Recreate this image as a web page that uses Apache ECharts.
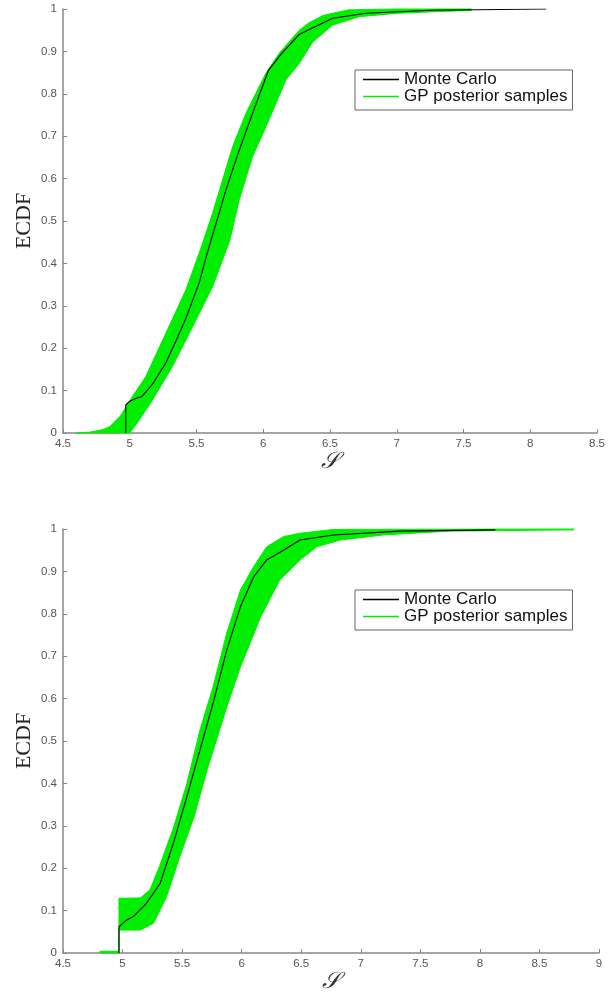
<!DOCTYPE html>
<html>
<head>
<meta charset="utf-8">
<script src="https://cdn.jsdelivr.net/npm/echarts@6/dist/echarts.min.js"></script>
<style>
html,body{margin:0;padding:0;background:#fff;}
#chart{width:608px;height:996px;}
</style>
</head>
<body>
<div id="chart"></div>
<script>
// ---------- Data ----------
const xTicksTop = ['4.5','5','5.5','6','6.5','7','7.5','8','8.5'];
const xTicksBottom = ['4.5','5','5.5','6','6.5','7','7.5','8','8.5','9'];
const yTicks = ['0','0.1','0.2','0.3','0.4','0.5','0.6','0.7','0.8','0.9','1'];
const yTitle = 'ECDF';
const xTitle = '\u{1D4AE}';

// Top panel: Monte Carlo ECDF
const mcTopX = [4.97, 4.97, 5.0, 5.05, 5.09, 5.17, 5.27, 5.35, 5.42, 5.52, 5.58, 5.65, 5.72, 5.82, 5.92, 6.04, 6.14, 6.27, 6.34, 6.52, 6.77, 7.26, 8.12];
const mcTopY = [0, 0.066, 0.075, 0.082, 0.086, 0.115, 0.165, 0.22, 0.27, 0.354, 0.424, 0.498, 0.573, 0.667, 0.754, 0.856, 0.896, 0.94, 0.951, 0.978, 0.99, 0.997, 1.0];
// Top panel: GP posterior samples envelope (upper/left and lower/right)
const gpTopUpperX = [4.6, 4.7, 4.8, 4.85, 4.93, 5.02, 5.12, 5.27, 5.42, 5.52, 5.62, 5.77, 5.87, 6.02, 6.12, 6.27, 6.34, 6.45, 6.64, 7.0, 7.56];
const gpTopUpperY = [0, 0.002, 0.008, 0.015, 0.04, 0.086, 0.133, 0.235, 0.337, 0.424, 0.518, 0.675, 0.754, 0.849, 0.896, 0.95, 0.967, 0.985, 0.998, 1.0, 1.0];
const gpTopLowerX = [4.6, 5.0, 5.07, 5.17, 5.32, 5.47, 5.62, 5.75, 5.82, 5.92, 6.02, 6.17, 6.27, 6.37, 6.52, 6.72, 7.01, 7.56];
const gpTopLowerY = [0, 0, 0.03, 0.078, 0.157, 0.25, 0.345, 0.455, 0.55, 0.652, 0.722, 0.833, 0.872, 0.922, 0.962, 0.982, 0.99, 0.997];

// Bottom panel: Monte Carlo ECDF
const mcBotX = [4.97, 4.97, 5.035, 5.09, 5.2, 5.315, 5.427, 5.54, 5.65, 5.76, 5.875, 5.99, 6.1, 6.21, 6.35, 6.49, 6.77, 7.33, 8.13];
const mcBotY = [0, 0.062, 0.078, 0.086, 0.117, 0.164, 0.259, 0.369, 0.479, 0.589, 0.715, 0.817, 0.887, 0.927, 0.95, 0.974, 0.986, 0.995, 0.998];
// Bottom panel: GP posterior samples envelope
const gpBotUpperX = [4.81, 4.97, 4.97, 5.15, 5.23, 5.31, 5.43, 5.54, 5.65, 5.76, 5.875, 5.99, 6.1, 6.21, 6.35, 6.49, 6.77, 8.79];
const gpBotUpperY = [0.004, 0.004, 0.129, 0.13, 0.149, 0.204, 0.298, 0.4, 0.526, 0.628, 0.755, 0.856, 0.911, 0.958, 0.982, 0.99, 0.999, 1.0];
const gpBotLowerX = [4.81, 4.97, 4.97, 5.15, 5.26, 5.37, 5.48, 5.6, 5.71, 5.875, 5.99, 6.16, 6.32, 6.49, 6.63, 6.83, 7.19, 7.75, 8.79];
const gpBotLowerY = [0, 0, 0.054, 0.054, 0.07, 0.133, 0.227, 0.321, 0.432, 0.58, 0.675, 0.793, 0.88, 0.927, 0.958, 0.974, 0.986, 0.995, 0.998];

// ---------- Styles ----------
const GREEN = '#00ee00';
const AXIS_GRAY = '#888888';
const LABEL_COLOR = '#555555';

function zip(xs, ys) { return xs.map((x, i) => [x, ys[i]]); }
function bandPoints(ux, uy, lx, ly) {
  return zip(ux, uy).concat(zip(lx, ly).reverse());
}

function bandSeries(idx, pts) {
  return {
    type: 'custom',
    name: 'GP posterior samples',
    xAxisIndex: idx, yAxisIndex: idx,
    itemStyle: { color: GREEN },
    silent: true,
    z: 1,
    data: pts,
    encode: { x: 0, y: 1 },
    renderItem: function (params, api) {
      if (params.dataIndex !== 0) return null;
      const poly = pts.map(p => api.coord(p));
      return {
        type: 'polygon',
        shape: { points: poly },
        style: { fill: GREEN, stroke: GREEN, lineWidth: 1 }
      };
    }
  };
}

function mcSeries(idx, xs, ys) {
  return {
    type: 'line',
    name: 'Monte Carlo',
    xAxisIndex: idx, yAxisIndex: idx,
    data: zip(xs, ys),
    showSymbol: false,
    symbol: 'none',
    lineStyle: { color: '#000', width: 1.1 },
    itemStyle: { color: '#000' },
    z: 3,
    silent: true
  };
}

function xAxis(idx, max, ticks) {
  return {
    type: 'value', gridIndex: idx, min: 4.5, max: max, interval: 0.5,
    name: xTitle, nameLocation: 'middle', nameGap: 18,
    nameTextStyle: { fontFamily: 'DejaVu Serif, Liberation Serif, serif', fontStyle: 'italic', fontSize: 23, color: '#333' },
    axisLine: { show: true, lineStyle: { color: AXIS_GRAY, width: 1.5 } },
    axisTick: { show: true, inside: true, length: 4, lineStyle: { color: AXIS_GRAY } },
    axisLabel: {
      margin: 5, color: LABEL_COLOR, fontFamily: 'Liberation Sans, Arial, sans-serif', fontSize: 11.5,
      formatter: function (v) { const i = Math.round((v - 4.5) / 0.5); return ticks[i] !== undefined ? ticks[i] : ''; }
    },
    splitLine: { show: false }
  };
}

function yAxis(idx) {
  return {
    type: 'value', gridIndex: idx, min: 0, max: 1, interval: 0.1,
    axisLine: { show: true, lineStyle: { color: AXIS_GRAY, width: 1.5 } },
    axisTick: { show: true, inside: true, length: 4, lineStyle: { color: AXIS_GRAY } },
    axisLabel: {
      margin: 6, color: LABEL_COLOR, fontFamily: 'Liberation Sans, Arial, sans-serif', fontSize: 11.5,
      formatter: function (v) { const i = Math.round(v * 10); return yTicks[i] !== undefined ? yTicks[i] : ''; }
    },
    splitLine: { show: false }
  };
}

function yTitleText(cy) {
  return {
    type: 'text', x: 24, y: cy, rotation: Math.PI / 2, silent: true,
    style: {
      text: yTitle, fontFamily: 'Liberation Serif, Times New Roman, serif', fontSize: 22,
      fill: '#222', align: 'center', verticalAlign: 'middle'
    }
  };
}

function legend(top) {
  return {
    orient: 'vertical', left: 355, top: top,
    padding: [1, 5, 5, 8],
    itemGap: 0,
    itemWidth: 36, itemHeight: 1.5,
    icon: 'rect',
    borderColor: '#666', borderWidth: 1, backgroundColor: '#fff',
    textStyle: { fontFamily: 'Liberation Sans, Arial, sans-serif', fontSize: 17, color: '#111', lineHeight: 16 },
    selectedMode: false,
    data: [
      { name: 'Monte Carlo', itemStyle: { color: '#000' } },
      { name: 'GP posterior samples', itemStyle: { color: GREEN } }
    ]
  };
}

const chart = echarts.init(document.getElementById('chart'), null, { renderer: 'canvas' });
chart.setOption({
  backgroundColor: '#fff',
  animation: false,
  grid: [
    { left: 63, top: 9, width: 536, height: 424 },
    { left: 63, top: 529, width: 536, height: 424 }
  ],
  xAxis: [xAxis(0, 8.5, xTicksTop), xAxis(1, 9, xTicksBottom)],
  yAxis: [yAxis(0), yAxis(1)],
  legend: [legend(70), legend(590)],
  graphic: [yTitleText(221), yTitleText(741)],
  series: [
    bandSeries(0, bandPoints(gpTopUpperX, gpTopUpperY, gpTopLowerX, gpTopLowerY)),
    mcSeries(0, mcTopX, mcTopY),
    bandSeries(1, bandPoints(gpBotUpperX, gpBotUpperY, gpBotLowerX, gpBotLowerY)),
    mcSeries(1, mcBotX, mcBotY)
  ]
});
</script>
</body>
</html>
